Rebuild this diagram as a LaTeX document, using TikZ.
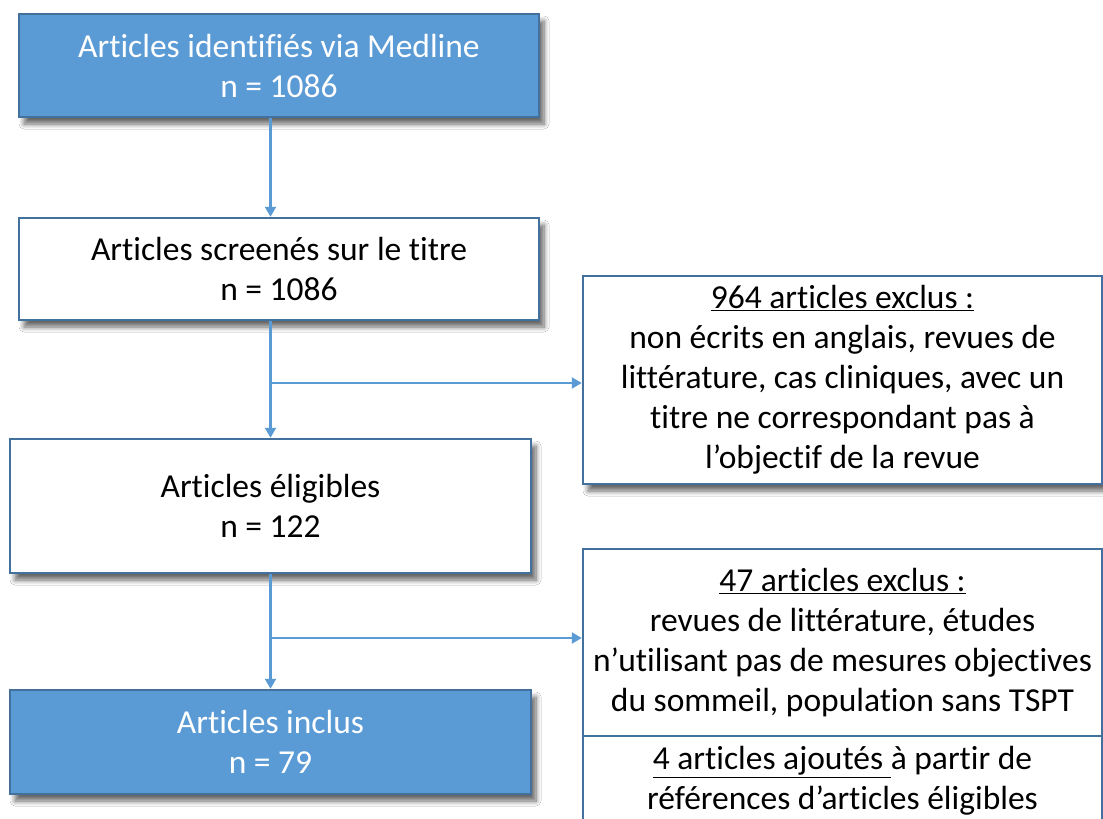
\documentclass[tikz,border=0pt]{standalone}
\usepackage{fontspec}
\setmainfont{Carlito}[Ligatures=NoCommon]
\usetikzlibrary{arrows.meta,shadows.blur}
\definecolor{boxblue}{HTML}{5B9BD5}
\definecolor{edgeblue}{HTML}{41719C}
\definecolor{arrowblue}{HTML}{5B9BD5}
\tikzset{
  base/.style={draw=edgeblue, line width=2.5pt, align=center, inner sep=0pt,
    font=\fontsize{33.5}{40}\selectfont},
  shad/.style={blur shadow={shadow xshift=5pt, shadow yshift=-7pt, shadow blur steps=8, shadow blur radius=5pt, shadow opacity=60}},
  bluebox/.style={base, shad, fill=boxblue, text=white},
  whitebox/.style={base, shad, fill=white, text=black},
  plainbox/.style={base, fill=white, text=black},
  conn/.style={draw=arrowblue, line width=2.4pt, -{Triangle[width=11pt,length=10pt]}}
}
\begin{document}
\begin{tikzpicture}[x=1pt,y=-1pt]
\fill[white] (0,0) rectangle (1103,819);
\useasboundingbox (0,0) rectangle (1103,819);
\clip (0,0) rectangle (1103,819);
\node[bluebox, minimum width=520pt, minimum height=103pt] (b1) at (279,65.5)
  {Articles identifiés via Medline\\n = 1086};
\node[whitebox, minimum width=520pt, minimum height=102pt] (b2) at (279,269)
  {Articles screenés sur le titre\\n = 1086};
\node[whitebox, minimum width=521pt, minimum height=134pt] (b3) at (270.5,506)
  {Articles éligibles\\n = 122};
\node[bluebox, minimum width=521pt, minimum height=104pt] (b4) at (270.5,742)
  {Articles inclus\\n = 79};
\node[whitebox, minimum width=519pt, minimum height=208pt] (r1) at (842.5,380)
  {\underline{964 articles exclus :}\\non écrits en anglais, revues de\\littérature, cas cliniques, avec un\\titre ne correspondant pas à\\l’objectif de la revue};
\node[plainbox, minimum width=519pt, minimum height=90pt] (r3) at (842.5,781)
  {\underline{4 articles ajoutés\ }à partir de\\références d’articles éligibles};
\node[plainbox, minimum width=519pt, minimum height=187pt] (r2) at (842.5,642.5)
  {\underline{47 articles exclus :}\\revues de littérature, études\\n’utilisant pas de mesures objectives\\du sommeil, population sans TSPT};
\coordinate (j1) at (270.5,383);
\coordinate (j2) at (270.5,638);
\draw[conn] (b1.south -| b3.north) -- (b2.north -| b3.north);
\draw[conn] (b2.south -| b3.north) -- (b3.north);
\draw[conn] (j1) -- (j1 -| r1.west);
\draw[conn] (b3.south) -- (b4.north);
\draw[conn] (j2) -- (j2 -| r2.west);
\end{tikzpicture}
\end{document}
